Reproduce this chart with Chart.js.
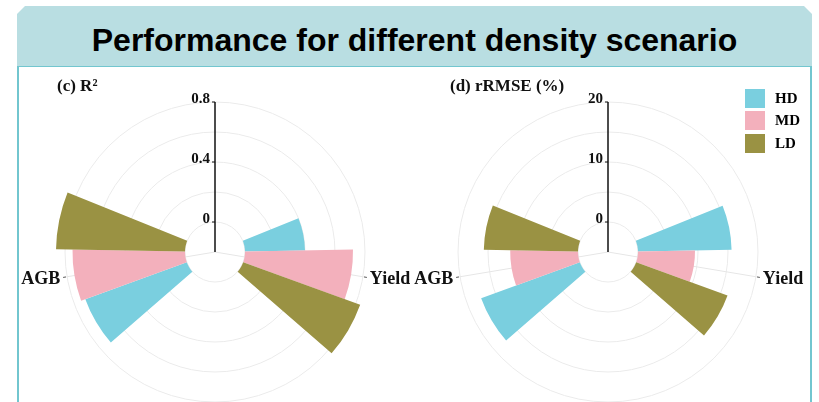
<!DOCTYPE html>
<html>
<head>
<meta charset="utf-8">
<script src="https://cdn.jsdelivr.net/npm/chart.js@4.4.1/dist/chart.umd.min.js"></script>
<style>
  html, body { margin: 0; padding: 0; background: #fff; }
  body { width: 819px; height: 402px; position: relative; overflow: hidden; }
  #banner {
    position: absolute; left: 17px; top: 6px; width: 795px; height: 60px;
    background: #b9dee2;
    clip-path: polygon(8px 0, 787px 0, 795px 8px, 795px 60px, 0 60px, 0 8px);
    font: bold 32px "Liberation Sans", Arial, sans-serif;
    text-align: center; line-height: 68px; color: #000;
  }
  #panel {
    position: absolute; left: 17px; top: 66px; width: 791px; height: 340px;
    border: 2px solid #72c6cf; border-top-width: 1px; border-bottom: none;
  }
  canvas { position: absolute; }
  #c1 { left: 19px; top: 67px; }
  #c2 { left: 410px; top: 67px; }
  #legend { position: absolute; left: 745px; top: 87px; font: bold 15px "Liberation Serif", "Times New Roman", serif; }
  #legend .item { display: flex; align-items: center; height: 22.5px; }
  #legend .sw { width: 20px; height: 19px; margin-right: 10px; }
</style>
</head>
<body>
<div id="banner">Performance for different density scenario</div>
<div id="panel"></div>
<canvas id="c1" width="391" height="335"></canvas>
<canvas id="c2" width="401" height="335"></canvas>
<div id="legend"></div>
<script>
const categories = ['AGB', 'Yield'];
const densities = ['HD', 'MD', 'LD'];
const densityColors = ['#7acfdf', '#f3b0bc', '#9a9243'];

// (c) R², values in the order of categories
const r2HD = [0.72, 0.40];
const r2MD = [0.75, 0.72];
const r2LD = [0.86, 0.83];
const r2TickLabels = [0, 0.4, 0.8];

// (d) rRMSE (%)
const rrmseHD = [17.5, 15.6];
const rrmseMD = [11.3, 9.5];
const rrmseLD = [15.7, 16.2];
const rrmseTickLabels = [0, 10, 20];

// angular layout (degrees, clockwise from top)
const startAngle = 68;
const barAngle = 21;
const groupOrder = ['Yield', 'AGB'];
const gapAngles = [98, 136];

const serif = '"Liberation Serif", "Times New Roman", serif';

function buildSlots(hd, md, ld) {
  const values = [], colors = [], angles = [], labels = [], groups = [];
  groupOrder.forEach((cat, g) => {
    const ci = categories.indexOf(cat);
    const first = values.length;
    [hd, md, ld].forEach((arr, d) => {
      values.push(arr[ci]);
      colors.push(densityColors[d]);
      angles.push(barAngle);
      labels.push(cat + ' ' + densities[d]);
    });
    groups.push({ label: cat, first: first, last: values.length - 1 });
    values.push(null);
    colors.push('rgba(0,0,0,0)');
    angles.push(gapAngles[g]);
    labels.push('');
  });
  return { values, colors, angles, labels, groups };
}

function groupAngle(chart, g) {
  const arcs = chart.getDatasetMeta(0).data;
  return (arcs[g.first].startAngle + arcs[g.last].endAngle) / 2;
}

const polarDecor = {
  id: 'polarDecor',
  afterDatasetsUpdate(chart) {
    // bars start at the value 0 ring, leaving the hole in the middle
    const scale = chart.scales.r;
    const inner = scale.getDistanceFromCenterForValue(0);
    chart.getDatasetMeta(0).data.forEach(arc => { arc.innerRadius = inner; });
  },
  beforeDatasetsDraw(chart, args, opts) {
    const { ctx } = chart;
    const scale = chart.scales.r;
    const R = scale.drawingArea;
    ctx.save();
    ctx.strokeStyle = '#e6e6e6';
    ctx.lineWidth = 1;
    opts.groups.forEach(g => {
      const a = groupAngle(chart, g);
      ctx.beginPath();
      ctx.moveTo(scale.xCenter, scale.yCenter);
      ctx.lineTo(scale.xCenter + R * Math.cos(a), scale.yCenter + R * Math.sin(a));
      ctx.stroke();
    });
    ctx.restore();
  },
  afterDraw(chart, args, opts) {
    const { ctx, chartArea } = chart;
    const scale = chart.scales.r;
    const xc = scale.xCenter, yc = scale.yCenter;
    const R = scale.drawingArea;
    ctx.save();

    // category labels
    ctx.font = 'bold 18px ' + serif;
    ctx.fillStyle = '#111';
    ctx.strokeStyle = '#555';
    ctx.lineWidth = 1;
    ctx.textBaseline = 'middle';
    opts.groups.forEach(g => {
      const a = groupAngle(chart, g);
      const c = Math.cos(a), s = Math.sin(a);
      ctx.beginPath();
      ctx.moveTo(xc + (R + 1) * c, yc + (R + 1) * s);
      ctx.lineTo(xc + (R + 4) * c, yc + (R + 4) * s);
      ctx.stroke();
      ctx.textAlign = c < 0 ? 'right' : 'left';
      ctx.fillText(g.label, xc + (R + 7) * c, yc + (R + 7) * s + 1);
    });

    // radial axis
    ctx.strokeStyle = '#111';
    ctx.lineWidth = 1.5;
    ctx.beginPath();
    ctx.moveTo(xc, yc);
    ctx.lineTo(xc, yc - scale.getDistanceFromCenterForValue(scale.max));
    ctx.stroke();
    ctx.font = 'bold 15px ' + serif;
    ctx.textAlign = 'right';
    ctx.textBaseline = 'alphabetic';
    ctx.lineWidth = 1;
    opts.tickLabels.forEach(v => {
      const y = yc - scale.getDistanceFromCenterForValue(v);
      ctx.beginPath();
      ctx.moveTo(xc - 3, y);
      ctx.lineTo(xc, y);
      ctx.stroke();
      ctx.fillText(String(v), xc - 5, y + 1);
    });

    // panel subtitle
    ctx.font = 'bold 17px ' + serif;
    ctx.textAlign = 'left';
    ctx.textBaseline = 'middle';
    ctx.fillText(opts.subtitle, chartArea.left - 8, chartArea.top - 15);
    ctx.restore();
  }
};

function makeChart(id, slots, cfg) {
  return new Chart(document.getElementById(id), {
    type: 'polarArea',
    data: {
      labels: slots.labels,
      datasets: [{
        data: slots.values,
        backgroundColor: slots.colors,
        angle: slots.angles,
        borderWidth: 0,
        clip: false
      }]
    },
    options: {
      responsive: false,
      animation: false,
      layout: { padding: cfg.padding },
      scales: {
        r: {
          min: cfg.min,
          max: cfg.max,
          startAngle: startAngle,
          ticks: { display: false, stepSize: cfg.step },
          grid: { color: '#ebebeb', lineWidth: 1 },
          angleLines: { display: false },
          pointLabels: { display: false }
        }
      },
      plugins: {
        legend: { display: false },
        tooltip: { enabled: false },
        polarDecor: { groups: slots.groups, tickLabels: cfg.tickLabels, subtitle: cfg.subtitle }
      }
    },
    plugins: [polarDecor]
  });
}

makeChart('c1', buildSlots(r2HD, r2MD, r2LD), {
  min: -0.2, max: 0.8, step: 0.2,
  tickLabels: r2TickLabels,
  subtitle: '(c) R²',
  padding: { left: 46, right: 45, top: 35, bottom: 0 }
});

makeChart('c2', buildSlots(rrmseHD, rrmseMD, rrmseLD), {
  min: -5, max: 20, step: 5,
  tickLabels: rrmseTickLabels,
  subtitle: '(d) rRMSE (%)',
  padding: { left: 48, right: 53, top: 35, bottom: 0 }
});

// legend
const legend = document.getElementById('legend');
densities.forEach((d, i) => {
  const item = document.createElement('div');
  item.className = 'item';
  const sw = document.createElement('div');
  sw.className = 'sw';
  sw.style.background = densityColors[i];
  const txt = document.createElement('span');
  txt.textContent = d;
  item.appendChild(sw);
  item.appendChild(txt);
  legend.appendChild(item);
});
</script>
</body>
</html>
